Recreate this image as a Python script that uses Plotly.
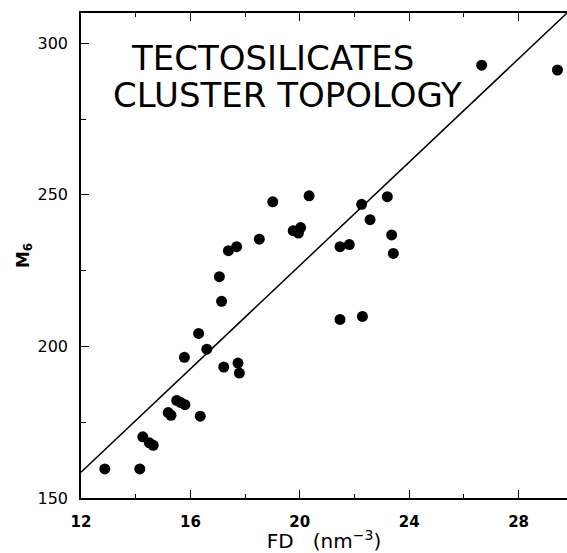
import plotly.graph_objects as go

# Data
fd = [12.87, 14.15, 14.26, 14.50, 14.64, 15.19, 15.29, 15.50, 15.65, 15.80, 16.36,
      15.78, 16.30, 16.60, 17.22, 17.74, 17.79, 17.14, 17.06, 17.39, 17.69, 18.52,
      19.01, 19.76, 19.95, 20.03, 20.34, 21.47, 21.81, 21.47, 22.29, 22.26, 22.57,
      23.20, 23.36, 23.42, 26.65, 29.42]
m6 = [159.6, 159.6, 170.2, 168.2, 167.4, 178.2, 177.3, 182.2, 181.5, 180.8, 177.0,
      196.4, 204.3, 199.1, 193.2, 194.5, 191.2, 214.9, 223.0, 231.6, 232.9, 235.4,
      247.7, 238.2, 237.4, 239.2, 249.7, 232.9, 233.6, 208.9, 209.9, 246.9, 241.8,
      249.4, 236.8, 230.7, 292.8, 291.2]

fit_x = [12.0, 29.77]
fit_y = [158.5, 310.0]

x_ticks = [12, 16, 20, 24, 28]
y_ticks = [150, 200, 250, 300]
title_lines = ["TECTOSILICATES", "CLUSTER TOPOLOGY"]

fig = go.Figure()
fig.add_trace(go.Scatter(x=fit_x, y=fit_y, mode="lines",
                         line=dict(color="black", width=1.5), showlegend=False,
                         hoverinfo="skip"))
fig.add_trace(go.Scatter(x=fd, y=m6, mode="markers",
                         marker=dict(color="black", size=11), showlegend=False))

title_font = dict(family="DejaVu Sans ExtraLight, DejaVu Sans", size=34, color="black")
fig.add_annotation(x=0.395, y=0.907, xref="paper", yref="paper", text=title_lines[0],
                   showarrow=False, xanchor="center", yanchor="middle", font=title_font)
fig.add_annotation(x=0.424, y=0.830, xref="paper", yref="paper", text=title_lines[1],
                   showarrow=False, xanchor="center", yanchor="middle", font=title_font)

fig.update_layout(
    width=567, height=553,
    margin=dict(l=81, r=0, t=13, b=55),
    paper_bgcolor="white", plot_bgcolor="white",
    xaxis=dict(range=[12, 29.77], tickvals=x_ticks, ticktext=[str(v) for v in x_ticks],
               ticks="inside", ticklen=8, tickwidth=1, tickcolor="black",
               minor=dict(dtick=2, ticks="inside", ticklen=4, tickcolor="black"),
               showline=True, linecolor="black", linewidth=1.5, mirror="ticks",
               showgrid=False, zeroline=False, ticklabelstandoff=9,
               tickfont=dict(family="DejaVu Sans", size=15, color="black", weight="bold"),
               title=dict(text="FD   (nm<sup>−3</sup>)", standoff=1,
                          font=dict(family="DejaVu Sans", size=20, color="black"))),
    yaxis=dict(range=[150, 310], tickvals=y_ticks, ticktext=[str(v) for v in y_ticks],
               ticks="inside", ticklen=8, tickwidth=1, tickcolor="black",
               minor=dict(dtick=25, ticks="inside", ticklen=5, tickcolor="black"),
               showline=True, linecolor="black", linewidth=1.5, mirror=False,
               showgrid=False, zeroline=False, ticklabelstandoff=8,
               tickfont=dict(family="DejaVu Sans", size=16, color="black"),
               title=dict(text="<b>M<sub>6</sub></b>", standoff=4,
                          font=dict(family="DejaVu Sans", size=17, color="black"))),
)

fig.write_html("out.html")
